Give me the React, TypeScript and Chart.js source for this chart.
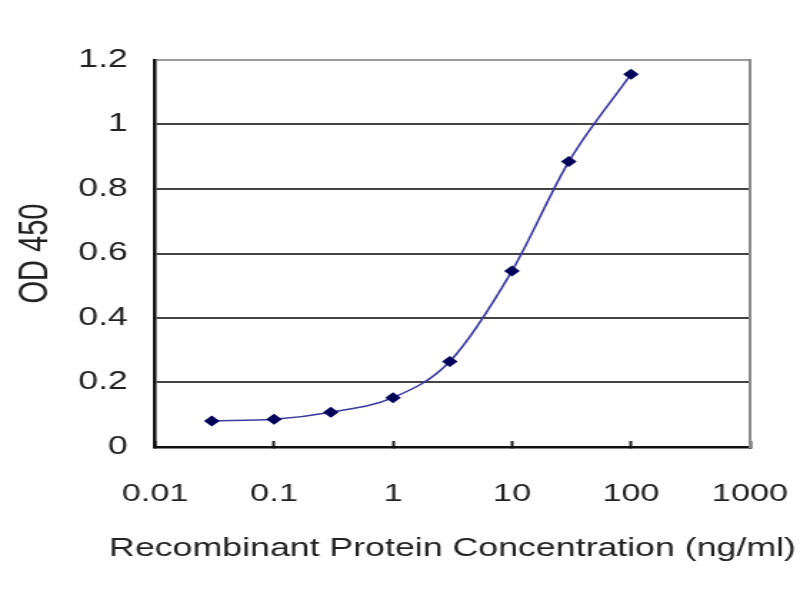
import React, { useEffect, useRef } from 'react';
import { Chart, registerables } from 'chart.js';

Chart.register(...registerables);

// concentrations (ng/ml) and measured OD 450
const concentrations = [0.03, 0.1, 0.3, 1, 3, 10, 30, 100];
const odValues = [0.081, 0.086, 0.108, 0.153, 0.265, 0.546, 0.885, 1.156];
const xTickValues = [0.01, 0.1, 1, 10, 100, 1000];
const yTickValues = [0, 0.2, 0.4, 0.6, 0.8, 1, 1.2];
const X_TITLE = 'Recombinant Protein Concentration (ng/ml)';

// the reference is stretched sideways, so draw narrow and widen with CSS
const DRAW_W = 560;
const DRAW_H = 600;
const FONT = 'Arial, "Liberation Sans", sans-serif';

// the built-in axis title is squeezed to the axis width, the reference's is wider
const xTitlePlugin = {
  id: 'xTitle',
  afterDraw(chart) {
    const { ctx, chartArea } = chart;
    ctx.save();
    ctx.font = `25px ${FONT}`;
    ctx.fillStyle = '#222';
    ctx.textAlign = 'center';
    ctx.textBaseline = 'alphabetic';
    ctx.fillText(X_TITLE, (chartArea.left + chartArea.right) / 2, chart.height - 44.5);
    ctx.restore();
  },
};

const App = () => {
  const chartRef = useRef<HTMLCanvasElement | null>(null);
  const chartInstance = useRef<Chart | null>(null);

  useEffect(() => {
    if (chartInstance.current) {
      chartInstance.current.destroy();
    }
    const ctx = chartRef.current!.getContext('2d')!;
    chartInstance.current = new Chart(ctx, {
      type: 'line',
      data: {
        datasets: [
          {
            label: 'OD 450',
            data: concentrations.map((c, i) => ({ x: c, y: odValues[i] })),
            borderColor: '#3a3aa0',
            borderWidth: 1.6,
            backgroundColor: '#000066',
            pointStyle: 'rectRot',
            pointRadius: 5.5,
            pointBorderWidth: 0,
            pointBackgroundColor: '#00005a',
            tension: 0.4,
            cubicInterpolationMode: 'monotone',
            fill: false,
          },
        ],
      },
      plugins: [xTitlePlugin],
      options: {
        responsive: false,
        animation: false,
        devicePixelRatio: 1,
        layout: { padding: { top: 60, right: 35, left: 0, bottom: 0 } },
        plugins: {
          legend: { display: false },
          tooltip: { enabled: false },
        },
        scales: {
          x: {
            type: 'logarithmic',
            min: 0.01,
            max: 1000,
            afterBuildTicks: (scale) => {
              scale.ticks = xTickValues.map((v) => ({ value: v }));
            },
            afterFit: (scale) => {
              scale.height = 153;
              scale.paddingLeft = 0;
              scale.paddingRight = 0;
            },
            grid: {
              drawOnChartArea: false,
              drawTicks: true,
              tickLength: -6,
              tickColor: '#222',
              tickWidth: 2,
            },
            border: { color: '#111', width: 2.5 },
            ticks: {
              padding: 39,
              color: '#222',
              font: { family: FONT, size: 24 },
              autoSkip: false,
              maxRotation: 0,
              callback: (value) => String(value),
            },
          },
          y: {
            min: 0,
            max: 1.2,
            afterBuildTicks: (scale) => {
              scale.ticks = yTickValues.map((v) => ({ value: v }));
            },
            afterFit: (scale) => {
              scale.width = 108.5;
            },
            grid: {
              drawTicks: false,
              color: (c) => (c.tick && c.tick.value === 1.2 ? '#9a9a9a' : '#444'),
              lineWidth: 2,
            },
            border: { color: '#111', width: 2.5 },
            ticks: {
              padding: 19,
              color: '#222',
              font: { family: FONT, size: 25 },
              callback: (value) => String(Number(Number(value).toFixed(1))),
            },
            title: {
              display: true,
              text: 'OD 450',
              color: '#222',
              font: { family: FONT, size: 29 },
              padding: { top: 8, bottom: 0 },
            },
          },
          y2: {
            position: 'right',
            min: 0,
            max: 1.2,
            afterFit: (scale) => {
              scale.width = 0;
            },
            grid: { drawOnChartArea: false, drawTicks: false },
            border: { color: '#8a8a8a', width: 2 },
            ticks: { display: false },
          },
        },
      },
    });
    return () => {
      if (chartInstance.current) {
        chartInstance.current.destroy();
        chartInstance.current = null;
      }
    };
  }, []);

  return (
    <div style={{ position: 'fixed', left: 0, top: 0, width: 800, height: 600, background: '#fff' }}>
      <canvas
        ref={chartRef}
        width={DRAW_W}
        height={DRAW_H}
        style={{ display: 'block', width: '800px', height: '600px' }}
      />
    </div>
  );
};

export default App;
